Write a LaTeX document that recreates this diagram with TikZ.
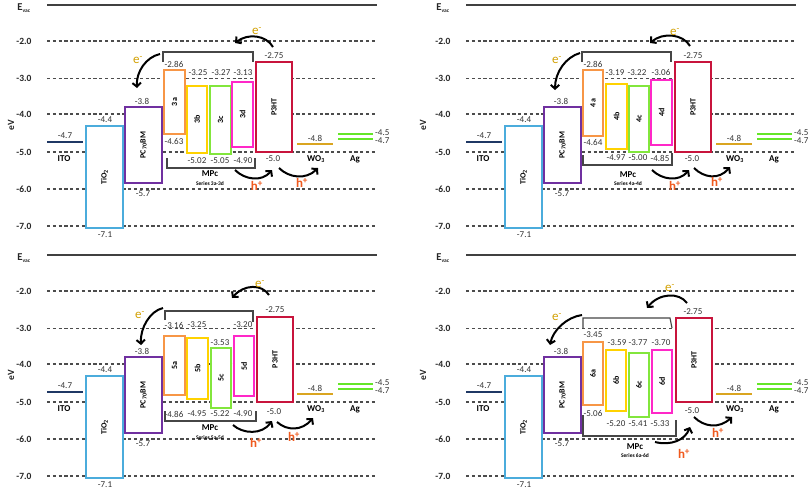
\documentclass[tikz,border=0pt]{standalone}
\usepackage{fontspec}
\setmainfont{Carlito}
\usetikzlibrary{arrows.meta}
\definecolor{itoc}{RGB}{31,56,100}
\definecolor{tioc}{RGB}{75,172,220}
\definecolor{pcbmc}{RGB}{112,48,160}
\definecolor{oc}{RGB}{247,150,70}
\definecolor{yc}{RGB}{255,210,0}
\definecolor{gc}{RGB}{130,230,60}
\definecolor{mc}{RGB}{255,40,200}
\definecolor{p3c}{RGB}{200,20,60}
\definecolor{wo3c}{RGB}{218,165,32}
\definecolor{agc}{RGB}{100,230,40}
\definecolor{egold}{RGB}{210,160,0}
\definecolor{hred}{RGB}{240,90,30}
\definecolor{brkc}{RGB}{70,70,70}
\tikzset{
 lvl/.style={draw=black!70, line width=1.1pt, dash pattern=on 3.2pt off 2.6pt},
 vac/.style={draw=black!75, line width=1.1pt},
 axl/.style={font=\fontsize{9.5}{10}\selectfont\bfseries, text=black!85, inner sep=0},
 num/.style={font=\fontsize{9}{10}\selectfont, text=black!80, inner sep=0},
 blbl/.style={font=\fontsize{8}{9}\selectfont\bfseries, rotate=90, inner sep=0},
 mat/.style={font=\fontsize{9}{10}\selectfont\bfseries, inner sep=0},
 ser/.style={font=\fontsize{5.5}{6}\selectfont\bfseries, inner sep=0},
 ebx/.style={line width=1.4pt, fill=white},
 brk/.style={draw=brkc, line width=1.1pt},
 flow/.style={draw=black, line width=2pt, -{Straight Barb[length=3.8pt,width=8.5pt]}},
 elab/.style={font=\fontsize{13}{14}\selectfont, text=egold, inner sep=0},
 hlab/.style={font=\fontsize{13}{14}\selectfont\bfseries, text=hred, inner sep=0},
}
\newcommand\ebox[7]{%
 \draw[ebx, draw=#2] (#3,#4) rectangle (#5,#6);
 \node[blbl] (#1) at ({(#3+#5)/2},{(#4+#6)/2}) {#7};}
\newcommand\commonpanel[2]{%
 \node[axl, font=\fontsize{10.5}{11}\selectfont\bfseries] (#1vac) at (24,8) {E\textsubscript{\fontsize{5.5}{6}\selectfont vac}};
 \coordinate (#1vl) at (47,5); \coordinate (#1vr) at (377,5);
 \draw[vac] (#1vl) -- (#1vr);
 \foreach \v/\yy in {2/41,3/78.5,4/114,5/152,6/189,7/226} {
   \node[axl] (#1ax\v) at (24,\yy) {-\v.0};
   \coordinate (#1dl\v) at (47,\yy); \coordinate (#1dr\v) at (377,\yy);
   \draw[lvl] (#1dl\v) -- (#1dr\v);}
 \node[axl, rotate=90] (#1ev) at (#2,125) {eV};
 \coordinate (#1itol) at (47,142); \coordinate (#1itor) at (83,142);
 \draw[draw=itoc, line width=1.4pt] (#1itol) -- (#1itor);
 \node[num] (#1itov) at (65,136) {-4.7};
 \node[mat] (#1ito) at (64,158.5) {ITO};
 \ebox{#1tio}{tioc}{86}{126}{123}{228}{TiO\textsubscript{2}}
 \node[num] (#1tiot) at (105,120) {-4.4};
 \node[num] (#1tiob) at (105,235) {-7.1};
 \ebox{#1pcbm}{pcbmc}{125}{107}{162}{183}{PC\textsubscript{70}BM}
 \node[num] (#1pct) at (142,101) {-3.8};
 \node[num] (#1pcb) at (143,194) {-5.7};
 \coordinate (#1wol) at (297,144); \coordinate (#1wor) at (333,144);
 \draw[draw=wo3c, line width=1.4pt] (#1wol) -- (#1wor);
 \node[num] (#1wov) at (315,138) {-4.8};
 \node[mat] (#1wo) at (316,159.5) {WO\textsubscript{3}};
 \coordinate (#1agl) at (338,134); \coordinate (#1agr) at (373,134);
 \coordinate (#1agl2) at (338,139); \coordinate (#1agr2) at (373,139);
 \draw[draw=agc, line width=1.4pt] (#1agl) -- (#1agr);
 \draw[draw=agc, line width=1.4pt] (#1agl2) -- (#1agr2);
 \node[num, anchor=west] (#1agv1) at (375,133) {-4.5};
 \node[num, anchor=west] (#1agv2) at (375,140.5) {-4.7};
 \node[mat] (#1ag) at (355,159.5) {Ag};
}
\begin{document}
\begin{tikzpicture}[x=1pt,y=-1pt]
\useasboundingbox[fill=white] (0,0) rectangle (810,491);
% ---------------- Panel A ----------------
\begin{scope}
\commonpanel{A}{11}
\ebox{A3a}{oc}{164}{70}{185}{134}{3a}
\ebox{A3b}{yc}{187}{86}{207}{153}{3b}
\ebox{A3c}{gc}{210}{86}{231}{154}{3c}
\ebox{A3d}{mc}{232}{82}{253}{147}{3d}
\ebox{Ap3}{p3c}{256}{62}{292}{152}{P3HT}
\node[num] (An1) at (174,64) {-2.86};
\node[num] (An2) at (174,141) {-4.63};
\node[num] (An3) at (198,73) {-3.25};
\node[num] (An4) at (221,73) {-3.27};
\node[num] (An5) at (243,73) {-3.13};
\node[num] (An6) at (197,161) {-5.02};
\node[num] (An7) at (220,161) {-5.05};
\node[num] (An8) at (243,161) {-4.90};
\node[num] (An9) at (274,56) {-2.75};
\node[num] (An10) at (273,159) {-5.0};
\draw[brk] (163,62) -- (163,52) -- (253,52) -- (253,62);
\draw[brk] (167,158) -- (167,168) -- (255,168) -- (255,158);
\node[mat] (Ampc) at (210,174) {MPc};
\node[ser] (Aser) at (210,184) {Series 3a-3d};
\coordinate (Ae1s) at (273,47); \coordinate (Ae1t) at (235,43);
\draw[flow] (Ae1s) .. controls (266,35) and (248,33) .. (Ae1t);
\node[elab] (Ae1) at (257,31) {e\textsuperscript{-}};
\coordinate (Ae2s) at (160,54); \coordinate (Ae2t) at (137,88);
\draw[flow] (Ae2s) .. controls (146,57) and (136,72) .. (Ae2t);
\node[elab] (Ae2) at (138,60) {e\textsuperscript{-}};
\coordinate (Ah1s) at (235,170); \coordinate (Ah1t) at (272,170);
\draw[flow] (Ah1s) .. controls (245,180) and (262,182) .. (Ah1t);
\node[hlab] (Ah1) at (257,186) {h\textsuperscript{+}};
\coordinate (Ah2s) at (279,168); \coordinate (Ah2t) at (318,168);
\draw[flow] (Ah2s) .. controls (289,178) and (306,180) .. (Ah2t);
\node[hlab] (Ah2) at (302,183) {h\textsuperscript{+}};
\end{scope}
% ---------------- Panel B ----------------
\begin{scope}[shift={(419,0)}]
\commonpanel{B}{4}
\ebox{B4a}{oc}{164}{70}{184}{136}{4a}
\ebox{B4b}{yc}{187}{84}{208}{149}{4b}
\ebox{B4c}{gc}{210}{86}{230}{152}{4c}
\ebox{B4d}{mc}{232}{80}{253}{145}{4d}
\ebox{Bp3}{p3c}{256}{62}{292}{152}{P3HT}
\node[num] (Bn1) at (174,64) {-2.86};
\node[num] (Bn2) at (174,142) {-4.64};
\node[num] (Bn3) at (196,73) {-3.19};
\node[num] (Bn4) at (218,73) {-3.22};
\node[num] (Bn5) at (242,72) {-3.06};
\node[num] (Bn6) at (197,158) {-4.97};
\node[num] (Bn7) at (219,158) {-5.00};
\node[num] (Bn8) at (241,158) {-4.85};
\node[num] (Bn9) at (274,56) {-2.75};
\node[num] (Bn10) at (273,159) {-5.0};
\draw[brk] (163,62) -- (163,52) -- (252,52) -- (252,62);
\draw[brk] (164,155) -- (164,165) -- (253,165) -- (253,153);
\node[mat] (Bmpc) at (209,175) {MPc};
\node[ser] (Bser) at (209,184) {Series 4a-4d};
\coordinate (Be1s) at (271,46); \coordinate (Be1t) at (231,43);
\draw[flow] (Be1s) .. controls (264,34) and (244,32) .. (Be1t);
\node[elab] (Be1) at (256,32) {e\textsuperscript{-}};
\coordinate (Be2s) at (161,53); \coordinate (Be2t) at (136,90);
\draw[flow] (Be2s) .. controls (147,57) and (136,72) .. (Be2t);
\node[elab] (Be2) at (138,60) {e\textsuperscript{-}};
\coordinate (Bh1s) at (233,170); \coordinate (Bh1t) at (270,170);
\draw[flow] (Bh1s) .. controls (243,180) and (260,182) .. (Bh1t);
\node[hlab] (Bh1) at (256,186) {h\textsuperscript{+}};
\coordinate (Bh2s) at (275,168); \coordinate (Bh2t) at (311,167);
\draw[flow] (Bh2s) .. controls (285,178) and (300,180) .. (Bh2t);
\node[hlab] (Bh2) at (298,182) {h\textsuperscript{+}};
\end{scope}
% ---------------- Panel C ----------------
\begin{scope}[shift={(0,250)}]
\commonpanel{C}{11}
\ebox{C5a}{oc}{164}{86}{185}{145}{5a}
\ebox{C5b}{yc}{187}{88}{208}{149}{5b}
\ebox{C5c}{gc}{211}{98}{231}{158}{5c}
\ebox{C5d}{mc}{234}{86}{254}{146}{5d}
\ebox{Cp3}{p3c}{257}{67}{293}{152}{P3HT}
\node[num] (Cn1) at (174,75) {-3.16};
\node[num] (Cn2) at (174,164) {-4.86};
\node[num] (Cn3) at (197,75) {-3.25};
\node[num] (Cn4) at (220,93) {-3.53};
\node[num] (Cn5) at (243,75) {-3.20};
\node[num] (Cn6) at (197,164) {-4.95};
\node[num] (Cn7) at (220,164) {-5.22};
\node[num] (Cn8) at (243,164) {-4.90};
\node[num] (Cn9) at (275,60) {-2.75};
\node[num] (Cn10) at (274,162) {-5.0};
\draw[brk] (165,70) -- (165,61) -- (253,61) -- (253,72);
\draw[brk] (165,161) -- (165,171) -- (256,171) -- (256,161);
\node[mat] (Cmpc) at (210,178) {MPc};
\node[ser] (Cser) at (210,188) {Series 5a-5d};
\coordinate (Ce1s) at (269,45); \coordinate (Ce1t) at (232,48);
\draw[flow] (Ce1s) .. controls (262,34) and (244,34) .. (Ce1t);
\node[elab] (Ce1) at (260,34) {e\textsuperscript{-}};
\coordinate (Ce2s) at (163,58); \coordinate (Ce2t) at (141,95);
\draw[flow] (Ce2s) .. controls (150,61) and (140,78) .. (Ce2t);
\node[elab] (Ce2) at (140,65) {e\textsuperscript{-}};
\coordinate (Ch1s) at (233,175); \coordinate (Ch1t) at (272,171);
\draw[flow] (Ch1s) .. controls (243,184) and (262,185) .. (Ch1t);
\node[hlab] (Ch1) at (256,193) {h\textsuperscript{+}};
\coordinate (Ch2s) at (277,172); \coordinate (Ch2t) at (313,168);
\draw[flow] (Ch2s) .. controls (287,181) and (302,181) .. (Ch2t);
\node[hlab] (Ch2) at (294,187) {h\textsuperscript{+}};
\end{scope}
% ---------------- Panel D ----------------
\begin{scope}[shift={(419,250)}]
\commonpanel{D}{4}
\ebox{D6a}{oc}{164}{92}{184}{155}{6a}
\ebox{D6b}{yc}{187}{100}{207}{161}{6b}
\ebox{D6c}{gc}{210}{103}{230}{167}{6c}
\ebox{D6d}{mc}{233}{100}{253}{163}{6d}
\ebox{Dp3}{p3c}{257}{68}{293}{152}{P3HT}
\node[num] (Dn1) at (174,85) {-3.45};
\node[num] (Dn2) at (174,163) {-5.06};
\node[num] (Dn3) at (198,93) {-3.59};
\node[num] (Dn4) at (219,93) {-3.77};
\node[num] (Dn5) at (242,93) {-3.70};
\node[num] (Dn6) at (197,174) {-5.20};
\node[num] (Dn7) at (219,174) {-5.41};
\node[num] (Dn8) at (241,174) {-5.33};
\node[num] (Dn9) at (274,62) {-2.75};
\node[num] (Dn10) at (273,161) {-5.0};
\draw[brk] (164,78) -- (164,68) -- (251,68) -- (253,78);
\draw[brk] (164,165) -- (164,186) -- (257,186) -- (257,170);
\node[mat] (Dmpc) at (216,197) {MPc};
\node[ser] (Dser) at (216,206) {Series 6a-6d};
\coordinate (De1s) at (268,53); \coordinate (De1t) at (228,58);
\draw[flow] (De1s) .. controls (260,42) and (240,43) .. (De1t);
\node[elab] (De1) at (251,38) {e\textsuperscript{-}};
\coordinate (De2s) at (163,65); \coordinate (De2t) at (131,95);
\draw[flow] (De2s) .. controls (148,67) and (134,80) .. (De2t);
\node[elab] (De2) at (138,67) {e\textsuperscript{-}};
\coordinate (Dh1s) at (236,192); \coordinate (Dh1t) at (271,177);
\draw[flow] (Dh1s) .. controls (252,196) and (266,190) .. (Dh1t);
\node[hlab] (Dh1) at (265,204) {h\textsuperscript{+}};
\coordinate (Dh2s) at (275,167); \coordinate (Dh2t) at (313,167);
\draw[flow] (Dh2s) .. controls (285,177) and (300,179) .. (Dh2t);
\node[hlab] (Dh2) at (299,183) {h\textsuperscript{+}};
\end{scope}
\end{tikzpicture}
\end{document}
